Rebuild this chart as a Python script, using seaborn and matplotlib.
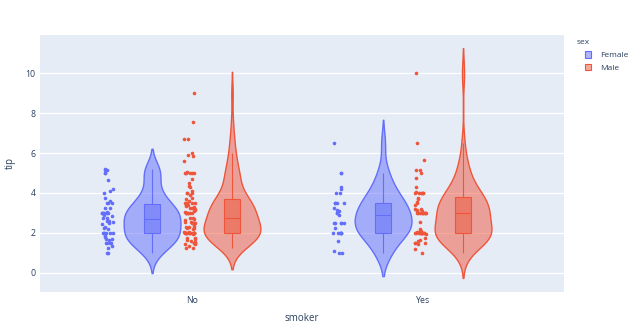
import numpy as np
import pandas as pd
import matplotlib
matplotlib.use("Agg")
import matplotlib.pyplot as plt
from matplotlib.colors import to_rgba
from matplotlib.patches import Patch
import seaborn as sns

# ---- data (tip values per sex / smoker group) ----
order = ["No", "Yes"]
hue_order = ["Female", "Male"]

female_no = [1.01, 3.61, 5.00, 3.02, 1.67, 3.50, 2.75, 2.23, 3.00, 3.00,
             2.45, 3.07, 2.60, 5.20, 1.50, 2.47, 3.00, 2.20, 1.83, 5.17,
             3.25, 4.08, 1.00, 4.00, 3.50, 1.50, 1.80, 2.92, 1.68, 2.52,
             4.20, 2.00, 2.00, 2.83, 1.50, 2.00, 3.25, 1.25, 2.00, 2.00,
             2.75, 3.50, 5.00, 2.30, 1.50, 1.36, 1.63, 5.14, 3.75, 2.61,
             2.00, 3.00, 4.67, 3.00]
female_yes = [1.00, 3.14, 5.00, 1.00, 4.30, 2.50, 3.00, 2.50, 3.48, 4.00,
              3.00, 1.61, 2.00, 4.00, 3.50, 3.50, 4.19, 5.00, 2.00, 2.01,
              2.00, 2.50, 3.23, 2.23, 2.50, 6.50, 1.10, 3.09, 3.48, 2.50,
              2.00, 2.88, 2.00]
male_no = [1.66, 3.50, 3.31, 4.71, 2.00, 3.12, 1.96, 3.23, 1.71, 1.57,
           3.00, 3.92, 3.71, 3.35, 4.08, 7.58, 3.18, 2.34, 2.00, 2.00,
           4.30, 1.45, 2.50, 3.27, 3.60, 2.00, 2.31, 5.00, 2.24, 2.54,
           3.06, 1.32, 5.60, 3.00, 5.00, 6.00, 2.05, 3.00, 2.50, 1.56,
           4.34, 3.51, 6.73, 2.64, 3.15, 2.01, 1.97, 1.25, 4.00, 3.00,
           2.71, 3.40, 2.03, 2.00, 4.00, 5.85, 3.00, 3.50, 1.50, 3.76,
           3.00, 4.00, 2.55, 5.07, 2.31, 2.50, 2.00, 1.48, 2.18, 1.50,
           6.70, 5.00, 1.73, 2.00, 2.50, 2.00, 2.74, 2.00, 2.00, 5.00,
           2.00, 3.50, 2.50, 2.00, 3.48, 2.24, 4.50, 5.00, 1.44, 9.00,
           3.00, 2.72, 3.39, 1.47, 1.25, 5.92, 1.75]
male_yes = [3.00, 1.76, 3.21, 2.00, 1.98, 3.76, 2.09, 3.08, 3.00, 5.00,
            3.00, 4.73, 4.00, 1.50, 3.00, 1.64, 4.06, 4.29, 2.00, 10.00,
            3.16, 5.15, 3.18, 4.00, 3.11, 2.00, 2.00, 3.55, 3.68, 5.65,
            3.50, 6.50, 3.00, 2.00, 4.00, 1.50, 2.56, 2.02, 4.00, 2.00,
            2.00, 4.00, 4.00, 3.41, 3.00, 2.03, 2.00, 5.16, 3.00, 1.50,
            1.44, 2.20, 1.92, 1.58, 2.00, 3.00, 3.00, 1.00, 1.17, 2.00]

y_ticks = [0, 2, 4, 6, 8, 10]

groups = {("Female", "No"): female_no, ("Female", "Yes"): female_yes,
          ("Male", "No"): male_no, ("Male", "Yes"): male_yes}
rows = [(sex, smk, t) for (sex, smk), vals in groups.items() for t in vals]
df = pd.DataFrame(rows, columns=["sex", "smoker", "tip"])

# ---- layout helpers ----
palette = {"Female": "#636EFA", "Male": "#EF553B"}
smoker_idx = {s: i for i, s in enumerate(order)}
violin_off = {"Female": -0.173, "Male": 0.173}
point_off = {"Female": -0.365, "Male": -0.01}
df["vpos"] = df["smoker"].map(smoker_idx) + df["sex"].map(violin_off)
df["ppos"] = df["smoker"].map(smoker_idx) + df["sex"].map(point_off)


def silverman_factor(v):
    """Bandwidth factor (relative to std) of Silverman's rule with IQR."""
    v = np.asarray(v, float)
    sd = v.std(ddof=1)
    q1, q3 = np.percentile(v, [25, 75])
    bw = 1.059 * min(sd, (q3 - q1) / 1.349) * len(v) ** -0.2
    return bw / sd


text_color = "#2a3f5f"
plt.rcParams["font.family"] = ["Open Sans", "DejaVu Sans"]

np.random.seed(3)
fig = plt.figure(figsize=(6.4, 3.3), dpi=100)
ax = fig.add_axes([40 / 640, 1 - 291.7 / 330, 524 / 640, (291.7 - 35) / 330])
ax.set_facecolor("#E5ECF6")
ax.set_axisbelow(True)

for sex in hue_order:
    c = palette[sex]
    for smk in order:
        sub = df[(df["sex"] == sex) & (df["smoker"] == smk)]
        n0 = len(ax.collections)
        sns.violinplot(data=sub, x="vpos", y="tip", native_scale=True,
                       orient="x", color=c, width=0.246,
                       density_norm="width",
                       bw_method=silverman_factor(sub["tip"]), cut=2,
                       inner=None, saturation=1, linewidth=1.0, linecolor=c,
                       ax=ax)
        for coll in ax.collections[n0:]:
            coll.set_facecolor(to_rgba(c, 0.5))
            coll.set_edgecolor(c)
    sub = df[df["sex"] == sex]
    n0p = len(ax.patches)
    sns.boxplot(data=sub, x="vpos", y="tip", native_scale=True, orient="x",
                color=c, width=0.066, showfliers=False, showcaps=False,
                saturation=1, linewidth=0.8, linecolor=c, whis=1.5, ax=ax)
    for p in ax.patches[n0p:]:
        p.set_facecolor(to_rgba(c, 0.5))
        p.set_edgecolor(c)
    sns.stripplot(data=sub, x="ppos", y="tip", native_scale=True, orient="x",
                  color=c, jitter=0.026, size=2.6, linewidth=0, ax=ax)

ax.set_xlim(-0.658, 1.61)
ax.set_ylim(-0.95, 11.92)
ax.set_xticks(range(len(order)))
ax.set_xticklabels(order)
ax.set_yticks(y_ticks)
ax.set_yticklabels([str(v) for v in y_ticks])
ax.tick_params(axis="both", length=0, labelsize=6.3, labelcolor=text_color)
ax.tick_params(axis="y", pad=3)
ax.tick_params(axis="x", pad=3)
ax.grid(axis="y", color="white", linewidth=0.9)
ax.grid(axis="x", visible=False)
for s in ax.spines.values():
    s.set_visible(False)
ax.set_xlabel("smoker", fontsize=7, color=text_color, labelpad=5.5)
ax.set_ylabel("tip", fontsize=7, color=text_color, labelpad=7)

# legend: title and entries
fig.text(577 / 640, 1 - 43 / 330, "sex", fontsize=6, color=text_color,
         ha="left", va="center")
handles = [Patch(facecolor=to_rgba(palette[s], 0.5), edgecolor=palette[s],
                 linewidth=0.8) for s in hue_order]
leg = fig.legend(handles, hue_order, loc="upper left",
                 bbox_to_anchor=(585 / 640, 1 - 51.5 / 330), frameon=False,
                 fontsize=6, handlelength=0.75, handleheight=0.75,
                 handletextpad=1.1, labelspacing=0.55,
                 borderaxespad=0, borderpad=0)
for t in leg.get_texts():
    t.set_color(text_color)

fig.savefig("out.png", dpi=100)
